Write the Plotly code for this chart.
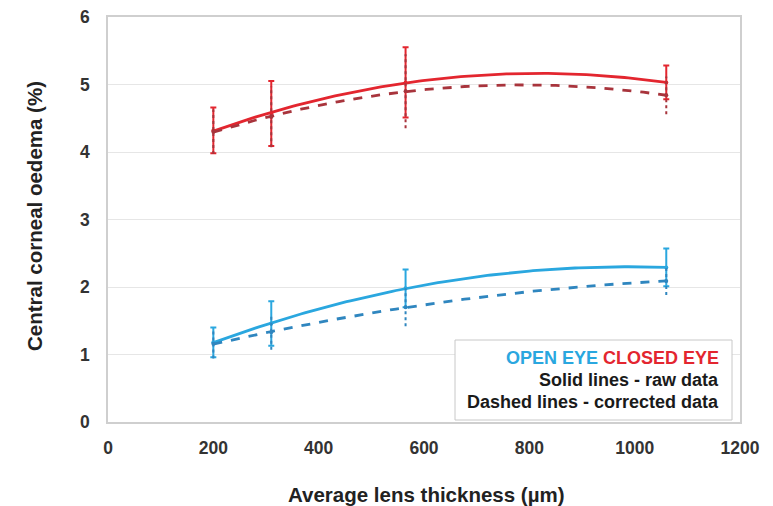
import numpy as np
import plotly.graph_objects as go

# ---- data ----
thickness = [200, 310, 565, 1060]          # average lens thickness (µm)

closed_raw = [4.32, 4.57, 5.03, 5.03]
closed_raw_err = [0.34, 0.48, 0.52, 0.25]
closed_corr = [4.30, 4.52, 4.90, 4.84]
closed_corr_err = [0.33, 0.45, 0.55, 0.28]

open_raw = [1.18, 1.46, 1.98, 2.29]
open_raw_err = [0.22, 0.33, 0.28, 0.28]
open_corr = [1.16, 1.33, 1.70, 2.09]
open_corr_err = [0.22, 0.26, 0.28, 0.21]

x_ticks = [0, 200, 400, 600, 800, 1000, 1200]
y_ticks = [0, 1, 2, 3, 4, 5, 6]

# ---- styles ----
RED = "#e3262f"
RED_D = "#a8343c"
BLUE = "#2aa7df"
BLUE_D = "#2f86bf"
FONT = "Liberation Sans, Arial, sans-serif"

# page body has an 8px offset; plot area in page px: x 108..740, y 17..422
W, H = 765, 498
ML, MR, MT, MB = 100, 33, 9, 84
PW, PH = W - ML - MR, H - MT - MB


def px_x(p):   # page pixel -> paper x
    return (p - 8 - ML) / PW


def px_y(p):   # page pixel -> paper y
    return (H - MB - (p - 8)) / PH


fig = go.Figure()


def trend(xs, ys):
    c = np.polyfit(xs, ys, 2)
    xx = np.linspace(min(xs), max(xs), 120)
    return xx, np.polyval(c, xx)


def dashed_err(xs, ys, es, color):
    ex, ey = [], []
    for xi, yi, ei in zip(xs, ys, es):
        ex += [xi, xi, None]
        ey += [yi - ei, yi + ei, None]
    fig.add_trace(go.Scatter(x=ex, y=ey, mode="lines",
                             line=dict(color=color, width=2, dash="dot"),
                             showlegend=False, hoverinfo="skip"))


series = [
    (closed_raw, closed_raw_err, RED, "solid"),
    (closed_corr, closed_corr_err, RED_D, "dash"),
    (open_raw, open_raw_err, BLUE, "solid"),
    (open_corr, open_corr_err, BLUE_D, "dash"),
]

for ys, es, col, dash in series:
    xx, yy = trend(thickness, ys)
    fig.add_trace(go.Scatter(x=xx, y=yy, mode="lines",
                             line=dict(color=col, width=2.8, dash=dash),
                             showlegend=False, hoverinfo="skip"))
    if dash == "solid":
        fig.add_trace(go.Scatter(
            x=thickness, y=ys, mode="markers",
            marker=dict(color=col, size=4),
            error_y=dict(type="data", array=es, visible=True,
                         color=col, thickness=2, width=3),
            showlegend=False))
    else:
        dashed_err(thickness, ys, es, col)
        fig.add_trace(go.Scatter(
            x=thickness, y=ys, mode="markers",
            marker=dict(color=col, size=4), showlegend=False))

# ---- legend-like text box ----
fig.add_shape(type="rect", xref="paper", yref="paper",
              x0=px_x(455), x1=px_x(732), y0=px_y(420), y1=px_y(340),
              line=dict(color="#c8c8c8", width=1), fillcolor="white",
              layer="above")
lines = [
    (f"<b><span style='color:{BLUE}'>OPEN EYE</span> "
     f"<span style='color:{RED}'>CLOSED EYE</span></b>", 358),
    ("<b>Solid lines - raw data</b>", 380),
    ("<b>Dashed lines - corrected data</b>", 402),
]
for txt, ypx in lines:
    fig.add_annotation(text=txt, xref="paper", yref="paper",
                       x=px_x(721), y=px_y(ypx),
                       xanchor="right", yanchor="middle", showarrow=False,
                       font=dict(family=FONT, size=18, color="#1a1a1a"))

# ---- axis titles ----
fig.add_annotation(text="<b>Average lens thickness (µm)</b>", xref="paper",
                   yref="paper", x=px_x(426), y=px_y(494), xanchor="center",
                   yanchor="middle", showarrow=False,
                   font=dict(family=FONT, size=20.5, color="#222222"))
fig.add_annotation(text="<b>Central corneal oedema (%)</b>", xref="paper",
                   yref="paper", x=px_x(34), y=px_y(216), xanchor="center",
                   yanchor="middle", showarrow=False, textangle=-90,
                   font=dict(family=FONT, size=20.5, color="#222222"))

fig.update_layout(
    width=W, height=H,
    margin=dict(l=ML, r=MR, t=MT, b=MB, autoexpand=False),
    paper_bgcolor="white", plot_bgcolor="white",
    font=dict(family=FONT, color="#333333"),
    xaxis=dict(range=[0, 1200], tickvals=x_ticks,
               ticktext=[f"<b>{v}</b>" for v in x_ticks],
               tickfont=dict(size=17.5, color="#333333"),
               showgrid=False, zeroline=False,
               showline=True, linecolor="#cfcfcf", linewidth=1.5, mirror=True,
               ticks="", ticklabelstandoff=9, automargin=False,
               ticklabeloverflow="allow"),
    yaxis=dict(range=[0, 6], tickvals=y_ticks,
               ticktext=[f"<b>{v}</b>" for v in y_ticks],
               tickfont=dict(size=17.5, color="#333333"),
               showgrid=True, gridcolor="#e6e6e6", gridwidth=1,
               zeroline=False,
               showline=True, linecolor="#cfcfcf", linewidth=1.5, mirror=True,
               ticks="", ticklabelstandoff=13, automargin=False,
               ticklabeloverflow="allow"),
)

fig.write_html("out.html")
